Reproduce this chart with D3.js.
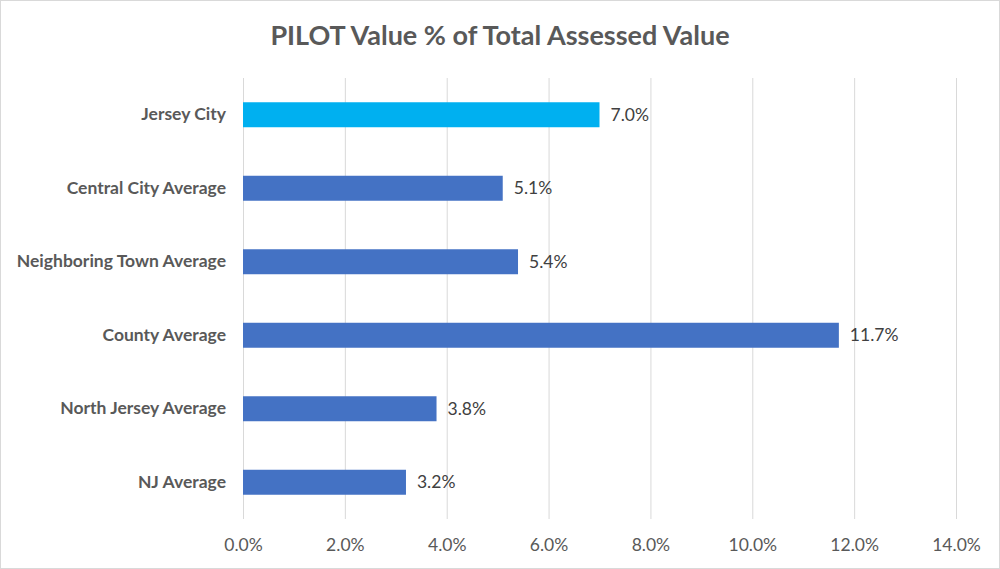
<!DOCTYPE html>
<html>
<head>
<meta charset="utf-8">
<script src="https://cdn.jsdelivr.net/npm/d3@7"></script>
<style>
  body { margin: 0; background: #fff; }
  text { font-family: Lato, "Open Sans", sans-serif; }
</style>
</head>
<body>
<div id="chart"></div>
<script>
// chart values
const categories = ["Jersey City", "Central City Average", "Neighboring Town Average",
                    "County Average", "North Jersey Average", "NJ Average"];
const values = [0.070, 0.051, 0.054, 0.117, 0.038, 0.032];
const tickValues = [0, 0.02, 0.04, 0.06, 0.08, 0.10, 0.12, 0.14];

const W = 1000, H = 569;
const margin = {top: 78, right: 44, bottom: 50, left: 243},
      width = W - margin.left - margin.right,
      height = H - margin.top - margin.bottom;

const root = d3.select("#chart")
  .append("svg")
    .attr("width", W)
    .attr("height", H);

// outer border
root.append("rect")
    .attr("x", 0.5).attr("y", 0.5)
    .attr("width", W - 1).attr("height", H - 1)
    .attr("fill", "#fff")
    .attr("stroke", "#d9d9d9");

root.append("text")
    .attr("x", W / 2)
    .attr("y", 45)
    .attr("text-anchor", "middle")
    .style("font-size", "27px")
    .style("font-weight", "bold")
    .attr("fill", "#595959")
    .text("PILOT Value % of Total Assessed Value");

const svg = root.append("g")
    .attr("transform", `translate(${margin.left},${margin.top})`);

const x = d3.scaleLinear()
    .domain([0, 0.14])
    .range([0, width]);

const y = d3.scaleBand()
    .domain(categories)
    .range([0, height])
    .paddingInner(0.66)
    .paddingOuter(0.33);

// gridlines
svg.append("g")
  .selectAll("line")
  .data(tickValues)
  .enter()
  .append("line")
    .attr("x1", d => x(d) + 0.5)
    .attr("x2", d => x(d) + 0.5)
    .attr("y1", 0)
    .attr("y2", height)
    .attr("stroke", "#d9d9d9")
    .attr("stroke-width", 1);

// x axis labels
const xAxis = svg.append("g")
    .attr("transform", `translate(0,${height})`)
    .call(d3.axisBottom(x).tickValues(tickValues).tickFormat(d3.format(".1%")).tickSize(0).tickPadding(20));
xAxis.select(".domain").remove();
xAxis.selectAll("text")
    .style("font-size", "17.5px")
    .attr("fill", "#595959");

// y axis labels
const yAxis = svg.append("g")
    .call(d3.axisLeft(y).tickSize(0).tickPadding(17));
yAxis.select(".domain").remove();
yAxis.selectAll("text")
    .style("font-size", "17.5px")
    .style("font-weight", "bold")
    .attr("fill", "#595959");

// bars
svg.selectAll(".bar")
    .data(categories)
    .enter()
    .append("rect")
    .attr("class", "bar")
    .attr("x", x(0))
    .attr("y", d => y(d))
    .attr("width", (d, i) => x(values[i]))
    .attr("height", y.bandwidth())
    .attr("fill", (d, i) => i === 0 ? "#00b0f0" : "#4472c4");

// value labels
svg.selectAll(".val")
    .data(categories)
    .enter()
    .append("text")
    .attr("class", "val")
    .attr("x", (d, i) => x(values[i]) + 11)
    .attr("y", d => y(d) + y.bandwidth() / 2)
    .attr("dy", "0.35em")
    .style("font-size", "17.5px")
    .attr("fill", "#404040")
    .text((d, i) => d3.format(".1%")(values[i]));
</script>
</body>
</html>
